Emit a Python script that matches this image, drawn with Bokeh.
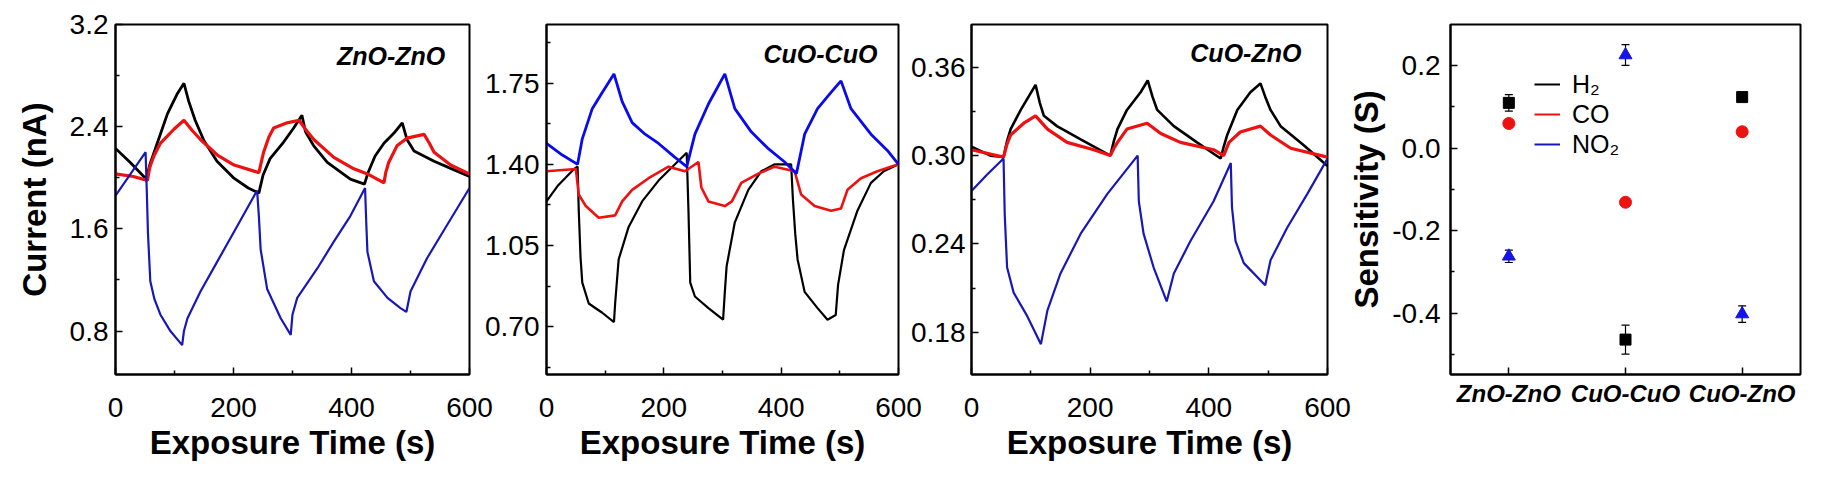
from bokeh.plotting import figure
from bokeh.layouts import row
from bokeh.models import (Range1d, FactorRange, FixedTicker, NumeralTickFormatter, Label,
                          Legend, LegendItem, Whisker, TeeHead, ColumnDataSource)
from bokeh.embed import file_html
from bokeh.resources import INLINE

# ---------------- data ----------------
# Panel 1: ZnO-ZnO (current, nA)
p1_t_h2 = [0, 25, 52, 58, 70, 88, 105, 116, 124, 135, 150, 172, 200, 225, 243, 250, 262, 285, 302, 316, 322, 336, 359, 398, 422, 428, 440, 455, 472, 486, 494, 506, 540, 570, 600]
p1_h2 = [2.23, 2.12, 1.99, 2.10, 2.26, 2.50, 2.66, 2.74, 2.60, 2.45, 2.29, 2.13, 2.00, 1.92, 1.88, 2.02, 2.15, 2.28, 2.39, 2.49, 2.36, 2.25, 2.12, 1.99, 1.95, 2.04, 2.17, 2.27, 2.35, 2.43, 2.30, 2.21, 2.13, 2.07, 2.01]
p1_t_co = [0, 30, 54, 58, 65, 76, 99, 116, 130, 144, 172, 201, 243, 247, 251, 260, 268, 291, 311, 322, 336, 370, 404, 427, 455, 458, 463, 477, 494, 523, 532, 540, 568, 600]
p1_co = [2.03, 2.01, 1.98, 2.08, 2.17, 2.27, 2.38, 2.45, 2.37, 2.30, 2.18, 2.10, 2.04, 2.12, 2.20, 2.32, 2.39, 2.43, 2.45, 2.38, 2.30, 2.16, 2.07, 2.03, 1.96, 2.04, 2.12, 2.25, 2.31, 2.34, 2.27, 2.20, 2.10, 2.03]
p1_t_no2 = [0, 51, 53, 55, 59, 66, 76, 93, 113, 116, 122, 144, 172, 200, 240, 243, 246, 257, 280, 297, 300, 308, 342, 370, 398, 423, 425, 427, 438, 461, 483, 493, 500, 528, 562, 600]
p1_no2 = [1.86, 2.20, 1.90, 1.57, 1.19, 1.05, 0.93, 0.80, 0.69, 0.80, 0.90, 1.11, 1.34, 1.57, 1.90, 1.70, 1.44, 1.13, 0.90, 0.77, 0.93, 1.06, 1.29, 1.50, 1.70, 1.92, 1.65, 1.42, 1.19, 1.06, 0.98, 0.95, 1.11, 1.37, 1.63, 1.92]

# Panel 2: CuO-CuO
p2_t_h2 = [0, 20, 47, 53, 55, 58, 61, 72, 95, 115, 117, 123, 140, 163, 191, 219, 239, 242, 245, 253, 276, 301, 304, 307, 321, 344, 366, 389, 417, 420, 424, 428, 440, 462, 479, 493, 497, 507, 530, 553, 575, 600]
p2_h2 = [1.24, 1.31, 1.38, 1.39, 1.20, 1.00, 0.89, 0.80, 0.76, 0.72, 0.80, 0.99, 1.13, 1.24, 1.33, 1.40, 1.45, 1.20, 0.89, 0.83, 0.78, 0.73, 0.85, 0.96, 1.15, 1.29, 1.37, 1.40, 1.40, 1.25, 1.10, 0.99, 0.85, 0.78, 0.73, 0.75, 0.88, 1.03, 1.20, 1.32, 1.37, 1.40]
p2_t_co = [0, 50, 55, 67, 89, 117, 129, 146, 174, 208, 236, 259, 264, 276, 304, 316, 332, 361, 389, 423, 434, 457, 485, 502, 513, 536, 564, 600]
p2_co = [1.37, 1.38, 1.27, 1.22, 1.17, 1.18, 1.24, 1.29, 1.34, 1.39, 1.37, 1.41, 1.30, 1.24, 1.22, 1.24, 1.32, 1.36, 1.39, 1.37, 1.27, 1.22, 1.20, 1.21, 1.29, 1.34, 1.37, 1.40]
p2_t_no2 = [0, 27, 53, 61, 78, 95, 115, 129, 146, 168, 191, 219, 239, 253, 276, 304, 321, 349, 377, 406, 426, 440, 462, 485, 502, 519, 553, 581, 600]
p2_no2 = [1.49, 1.44, 1.40, 1.51, 1.64, 1.71, 1.79, 1.67, 1.58, 1.53, 1.49, 1.43, 1.39, 1.53, 1.66, 1.79, 1.64, 1.54, 1.47, 1.41, 1.36, 1.53, 1.64, 1.71, 1.76, 1.64, 1.53, 1.46, 1.40]

# Panel 3: CuO-ZnO
p3_t_h2 = [0, 32, 54, 60, 66, 83, 108, 115, 122, 144, 184, 234, 240, 246, 262, 285, 297, 305, 313, 341, 380, 420, 425, 431, 448, 470, 487, 495, 504, 521, 560, 600]
p3_h2 = [0.306, 0.300, 0.299, 0.310, 0.318, 0.331, 0.348, 0.336, 0.327, 0.320, 0.311, 0.300, 0.310, 0.318, 0.331, 0.343, 0.351, 0.340, 0.331, 0.320, 0.309, 0.298, 0.306, 0.314, 0.331, 0.343, 0.349, 0.340, 0.331, 0.320, 0.307, 0.293]
p3_t_co = [0, 54, 60, 66, 88, 108, 128, 161, 206, 234, 240, 246, 262, 296, 319, 352, 408, 425, 430, 434, 453, 487, 504, 538, 600]
p3_co = [0.304, 0.299, 0.308, 0.314, 0.322, 0.327, 0.318, 0.309, 0.304, 0.300, 0.305, 0.309, 0.318, 0.322, 0.315, 0.309, 0.304, 0.300, 0.305, 0.309, 0.316, 0.320, 0.314, 0.305, 0.299]
p3_t_no2 = [0, 26, 54, 56, 60, 71, 94, 117, 128, 150, 184, 229, 280, 282, 290, 307, 329, 341, 369, 408, 437, 439, 445, 459, 495, 504, 532, 566, 600]
p3_no2 = [0.276, 0.287, 0.298, 0.260, 0.224, 0.207, 0.191, 0.172, 0.195, 0.220, 0.247, 0.274, 0.300, 0.269, 0.247, 0.224, 0.201, 0.220, 0.242, 0.269, 0.295, 0.265, 0.242, 0.227, 0.212, 0.229, 0.251, 0.274, 0.298]

# Panel 4: sensitivity
categories = ["ZnO-ZnO", "CuO-CuO", "CuO-ZnO"]
sens_h2 = [0.11, -0.464, 0.124]
sens_h2_err = [0.02, 0.035, 0.008]
sens_co = [0.06, -0.131, 0.04]
sens_co_err = [0.008, 0.008, 0.008]
sens_no2 = [-0.262, 0.226, -0.402]
sens_no2_err = [0.015, 0.025, 0.02]

panel_titles = ["ZnO-ZnO", "CuO-CuO", "CuO-ZnO"]
legend_labels = ["H\u2082", "CO", "NO\u2082"]

FONT = "Liberation Sans"
BLACK = "#000000"
RED = "#ee1111"
BLUE_DARK = "#1818b8"
BLUE = "#0a0aee"


def base_fig(width, bl, br, bt, bb, xr, yr):
    p = figure(width=width, height=483, x_range=xr, y_range=yr,
               output_backend="svg", toolbar_location=None,
               min_border_left=bl, min_border_right=br,
               min_border_top=bt, min_border_bottom=bb)
    p.grid.visible = False
    p.outline_line_color = "black"
    p.outline_line_width = 2
    p.outline_line_alpha = 1
    p.border_fill_alpha = 0
    p.background_fill_color = "white"
    for ax in (p.xaxis[0], p.yaxis[0]):
        ax.axis_line_width = 2
        ax.axis_line_color = "black"
        ax.major_tick_in = 7
        ax.major_tick_out = 0
        ax.minor_tick_in = 4
        ax.minor_tick_out = 0
        ax.major_tick_line_width = 1.5
        ax.minor_tick_line_width = 1.5
        ax.major_label_text_font = FONT
        ax.major_label_text_font_size = "28px"
        ax.major_label_text_color = "black"
        ax.axis_label_text_font = FONT
        ax.axis_label_text_font_style = "bold"
        ax.axis_label_text_font_size = "33px"
        ax.axis_label_text_color = "black"
    return p


def time_panel(width, bl, br, bt, bb, yr, yticks, yminor, yfmt, series, title, tx, ty, ylabel=None):
    p = base_fig(width, bl, br, bt, bb, Range1d(0, 600), Range1d(*yr))
    p.xaxis.ticker = FixedTicker(ticks=[0, 200, 400, 600], minor_ticks=[100, 300, 500])
    p.yaxis.ticker = FixedTicker(ticks=yticks, minor_ticks=yminor)
    p.yaxis.formatter = NumeralTickFormatter(format=yfmt)
    p.xaxis.axis_label = "Exposure Time (s)"
    p.xaxis.major_label_standoff = 23
    p.xaxis.axis_label_standoff = 4
    p.yaxis.major_label_standoff = 7
    if ylabel:
        p.yaxis.axis_label = ylabel
        p.yaxis.axis_label_standoff = 14
    for t, v, c, w in series:
        p.line(t, v, line_color=c, line_width=w)
    p.add_layout(Label(x=tx, y=ty, text=title, text_font=FONT, text_font_style="bold italic",
                       text_font_size="25px", text_align="right", text_baseline="middle",
                       text_color="black"))
    return p


f1 = time_panel(495, 115, 26, 24, 105, (0.46, 3.2), [0.8, 1.6, 2.4, 3.2], [1.2, 2.0, 2.8], "0.0",
                [(p1_t_h2, p1_h2, BLACK, 2.8), (p1_t_co, p1_co, RED, 3.2), (p1_t_no2, p1_no2, BLUE_DARK, 2.2)],
                panel_titles[0], 559, 2.95, ylabel="Current (nA)")
f2 = time_panel(440, 62, 24, 21, 106, (0.4937, 2.003), [0.70, 1.05, 1.40, 1.75],
                [0.525, 0.875, 1.225, 1.575, 1.925], "0.00",
                [(p2_t_h2, p2_h2, BLACK, 2.2), (p2_t_co, p2_co, RED, 2.6), (p2_t_no2, p2_no2, BLUE, 2.8)],
                panel_titles[1], 564, 1.875)
f3 = time_panel(448, 63, 29, 21, 107, (0.1514, 0.389), [0.18, 0.24, 0.30, 0.36], [0.21, 0.27, 0.33], "0.00",
                [(p3_t_h2, p3_h2, BLACK, 2.6), (p3_t_co, p3_co, RED, 3.2), (p3_t_no2, p3_no2, BLUE_DARK, 2.2)],
                panel_titles[2], 556, 0.3694)
f2.yaxis.major_label_standoff = 7
f3.yaxis.major_label_standoff = 6
f2.margin = (0, 0, 0, -13)
f3.margin = (0, 0, 0, -14)

# ---------------- panel 4 ----------------
f4 = base_fig(477, 103, 22, 18, 109, FactorRange(factors=categories, range_padding=0), Range1d(-0.5486, 0.3))
f4.margin = (0, 0, 0, -11)
f4.yaxis.ticker = FixedTicker(ticks=[-0.4, -0.2, 0.0, 0.2], minor_ticks=[-0.5, -0.3, -0.1, 0.1])
f4.yaxis.formatter = NumeralTickFormatter(format="0.0")
f4.yaxis.axis_label = "Sensitivity (S)"
f4.yaxis.axis_label_standoff = 4
f4.yaxis.major_label_standoff = 10
f4.xaxis.major_label_text_font_style = "bold italic"
f4.xaxis.major_label_text_font_size = "24px"
f4.xaxis.major_label_standoff = 5

specs = [(sens_h2, sens_h2_err, "square", BLACK, 11),
         (sens_co, sens_co_err, "circle", RED, 12),
         (sens_no2, sens_no2_err, "triangle", "#1414e6", 13)]
for vals, errs, marker, col, size in specs:
    src = ColumnDataSource(dict(x=categories, y=vals,
                                upper=[v + e for v, e in zip(vals, errs)],
                                lower=[v - e for v, e in zip(vals, errs)]))
    f4.add_layout(Whisker(source=src, base="x", upper="upper", lower="lower",
                          line_color="black", line_width=1.2,
                          upper_head=TeeHead(size=8, line_color="black", line_width=1.2),
                          lower_head=TeeHead(size=8, line_color="black", line_width=1.2)))
    f4.scatter("x", "y", source=src, marker=marker, size=size, fill_color=col,
               line_color=col, line_width=1)

# legend-only line renderers (a single NaN point draws nothing in the frame)
leg_items = []
for lab, col in zip(legend_labels, [BLACK, RED, BLUE_DARK]):
    leg_src = ColumnDataSource(dict(x=[categories[0]], y=[float("nan")]))
    r = f4.line("x", "y", source=leg_src, line_color=col, line_width=2)
    leg_items.append(LegendItem(label=lab, renderers=[r], index=0))
legend = Legend(items=leg_items, location=(84, 215), padding=0, margin=0, spacing=0,
                label_height=30, glyph_height=30, glyph_width=26, label_standoff=12,
                label_text_font=FONT, label_text_font_size="25px", label_text_color="black",
                border_line_alpha=0, background_fill_alpha=0)
f4.add_layout(legend, "center")

layout = row(f1, f2, f3, f4, spacing=0)
open("out.html", "w").write(file_html(layout, INLINE))
